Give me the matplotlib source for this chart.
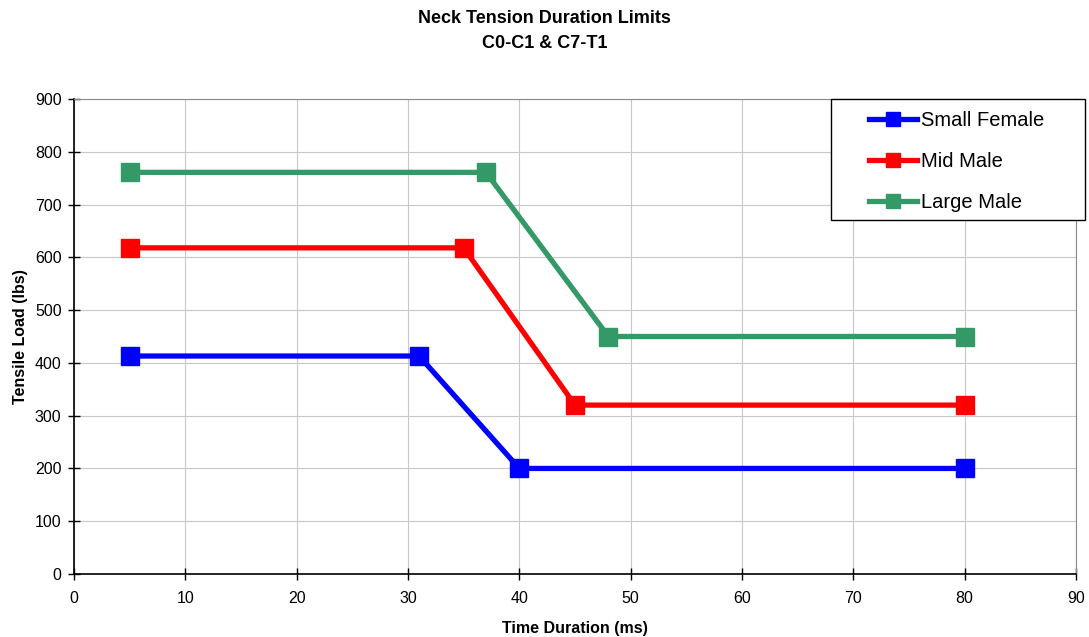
import matplotlib
matplotlib.use("Agg")
import matplotlib.pyplot as plt
from matplotlib.patches import Rectangle

plt.rcParams['font.family'] = ['Liberation Sans', 'DejaVu Sans']

series_names = ["Small Female", "Mid Male", "Large Male"]
colors = ["#0000FF", "#FF0000", "#339966"]
small_female_x = [5, 31, 40, 80]
small_female_y = [413, 413, 200, 200]
mid_male_x = [5, 35, 45, 80]
mid_male_y = [618, 618, 320, 320]
large_male_x = [5, 37, 48, 80]
large_male_y = [761, 761, 450, 450]

fig = plt.figure(figsize=(10.89, 6.37), dpi=100)
ax = fig.add_axes([74/1089, 63/637, (1076-74)/1089, (574-99)/637])

data = [(small_female_x, small_female_y), (mid_male_x, mid_male_y), (large_male_x, large_male_y)]
handles = []
for (xs, ys), name, c in zip(data, series_names, colors):
    h, = ax.plot(xs, ys, color=c, lw=3.8, marker='s', markersize=13, label=name)
    handles.append(h)

ax.set_xlim(0, 90)
ax.set_ylim(0, 900)
ax.set_xticks(range(0, 91, 10))
ax.set_yticks(range(0, 901, 100))
ax.grid(True, color='#c8c8c8', lw=0.8)
ax.set_axisbelow(True)
ax.tick_params(axis='x', direction='inout', length=8, width=1, labelsize=11.5, pad=8)
ax.tick_params(axis='y', direction='inout', length=8, width=1, labelsize=11.5, pad=5)
for s in ['left', 'bottom']:
    ax.spines[s].set_color('black')
    ax.spines[s].set_linewidth(1.2)
for s in ['top', 'right']:
    ax.spines[s].set_color('#888888')
    ax.spines[s].set_linewidth(0.8)

ax.set_xlabel("Time Duration (ms)", fontsize=11.5, fontweight='bold', labelpad=11)
ax.set_ylabel("Tensile Load (lbs)", fontsize=11.5, fontweight='bold', labelpad=5)
fig.text(0.5, 1 - 10/637, "Neck Tension Duration Limits\nC0-C1 & C7-T1", ha='center', va='top',
         fontsize=13, fontweight='bold', linespacing=1.6)

# legend frame
x0, y0, w, h = 831/1089, 1 - 220/637, 254/1089, 121/637
fig.patches.append(Rectangle((x0, y0), w, h, transform=fig.transFigure, facecolor='white',
                             edgecolor='black', lw=1.0, zorder=5))
leg = fig.legend(handles=handles, loc='center left',
                 bbox_to_anchor=(x0 + 38/1089, y0 + h/2 - 2/637),
                 fontsize=14.5, frameon=False, handlelength=2.4, labelspacing=1.1,
                 handletextpad=0.2, markerscale=0.8, borderpad=0, borderaxespad=0)
leg.set_zorder(6)

fig.savefig("out.png", dpi=100)
